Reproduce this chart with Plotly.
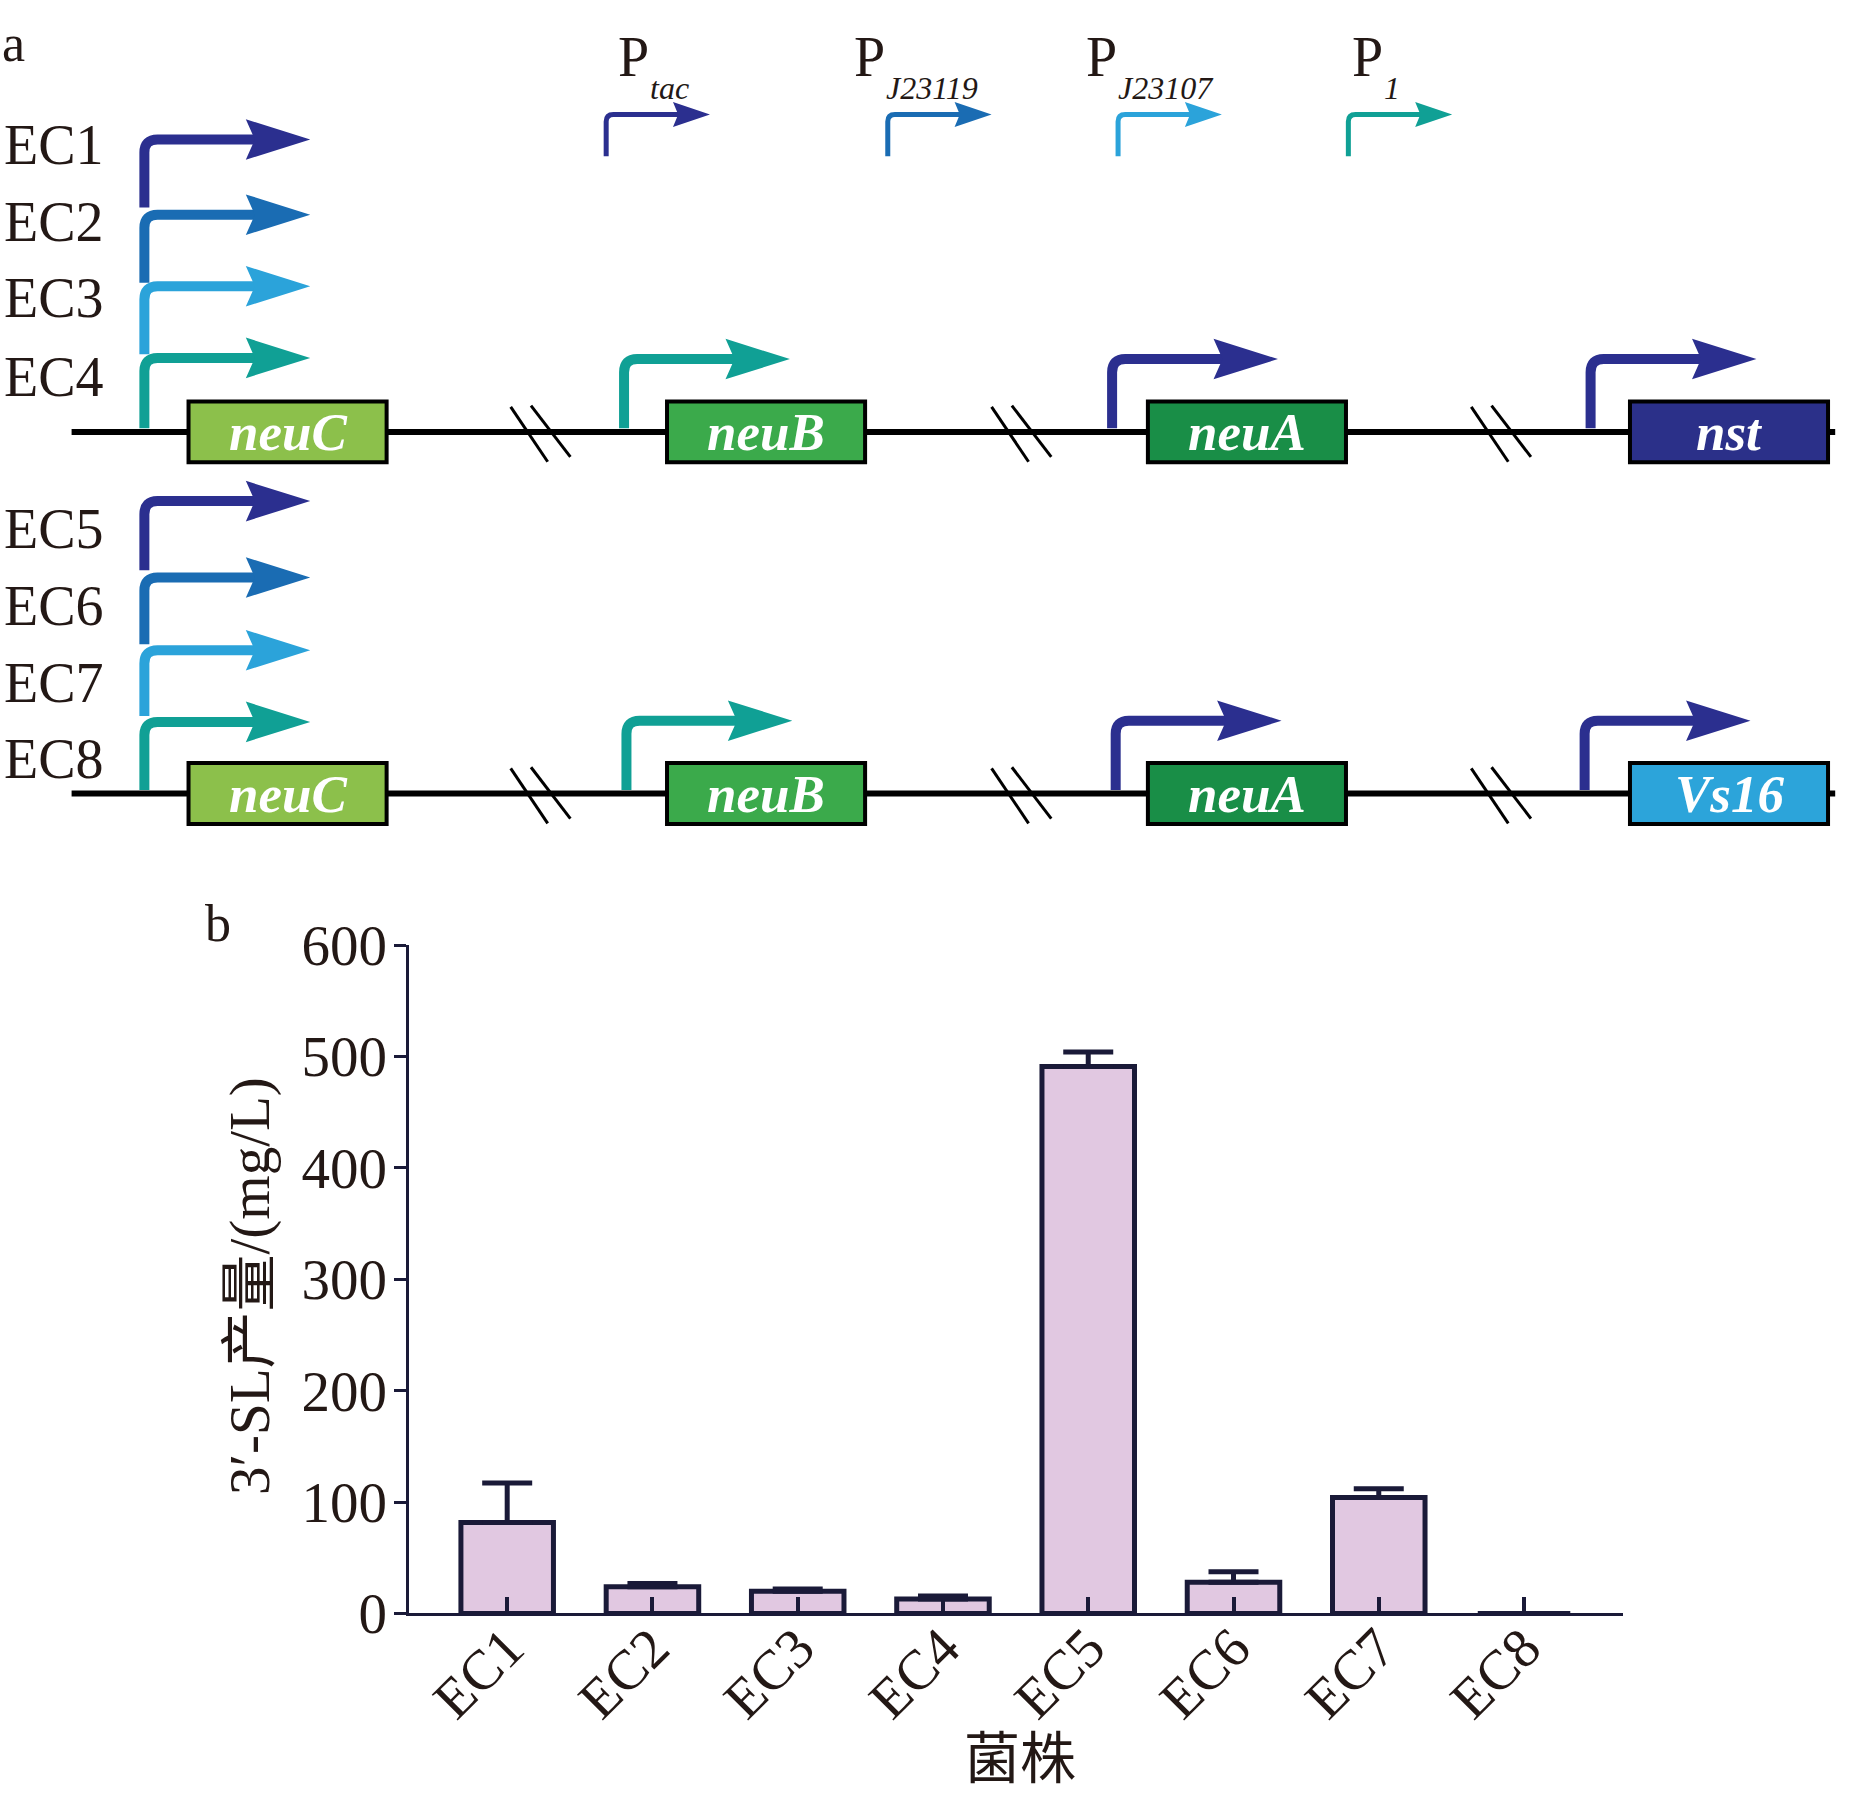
import plotly.graph_objects as go

# ---------------- data ----------------
strains = ["EC1", "EC2", "EC3", "EC4", "EC5", "EC6", "EC7", "EC8"]
production = [81.5, 24, 20, 13, 491, 28, 104, 0]
error_up = [35.5, 2.8, 2, 2.6, 13, 9.5, 8, 0]

genes_row1 = ["neuC", "neuB", "neuA", "nst"]
genes_row2 = ["neuC", "neuB", "neuA", "Vs16"]
promoters = ["tac", "J23119", "J23107", "1"]
strains_row1 = ["EC1", "EC2", "EC3", "EC4"]
strains_row2 = ["EC5", "EC6", "EC7", "EC8"]

NAVY = "#2B2F8F"
BLUE = "#1A6CB3"
LBLUE = "#2BA3DA"
TEAL = "#10A095"
promoter_colors = [NAVY, BLUE, LBLUE, TEAL]
gene_colors = {"neuC": "#8CC04B", "neuB": "#3BAA4B", "neuA": "#198E47",
               "nst": "#2B3089", "Vs16": "#2CA4DA"}
gene_promoter_colors = [TEAL, NAVY, NAVY]

BAR_FILL = "#E1C8E1"
DARK = "#1A1A38"
TXT = "#231815"
SERIF = "Liberation Serif, Times New Roman, Noto Sans CJK SC, serif"
CJK = "Liberation Serif, Noto Sans CJK SC, serif"

# figure size and layout frame (layout units: DW x DH, top of page at Y0)
W, H = 1871, 1828
DW, DH = 1568, 1503
Y0 = 24.1


def py(v):
    """layout-unit y (from top) -> paper fraction"""
    return 1 - (v - Y0) / (DH - Y0)


fig = go.Figure()

fig.add_trace(go.Bar(
    x=strains, y=production, width=0.637,
    marker=dict(color=BAR_FILL, line=dict(color=DARK, width=5)),
    error_y=dict(type="data", symmetric=False, array=error_up,
                 arrayminus=[0] * len(error_up), color=DARK,
                 thickness=5, width=25),
    showlegend=False, hoverinfo="x+y",
))

fig.add_trace(go.Scatter(x=[None], y=[None], xaxis="x2", yaxis="y2",
                         showlegend=False, hoverinfo="skip"))

shapes = []
annotations = []


def line(x0, y0, x1, y1, color, width):
    shapes.append(dict(type="line", xref="x2", yref="y2", x0=x0, y0=y0,
                       x1=x1, y1=y1, line=dict(color=color, width=width)))


def bent_arrow(x, y_bot, y_top, x_tip, color, lw, head_len, head_half, r):
    x_back = x_tip - head_len
    notch = head_len * 0.14
    p = (f"M {x},{y_bot} L {x},{y_top + r} Q {x},{y_top} {x + r},{y_top} "
         f"L {x_back + notch + 2},{y_top}")
    shapes.append(dict(type="path", xref="x2", yref="y2", path=p,
                       line=dict(color=color, width=lw),
                       fillcolor="rgba(0,0,0,0)"))
    h = (f"M {x_tip},{y_top} L {x_back},{y_top - head_half} "
         f"L {x_back + notch},{y_top} L {x_back},{y_top + head_half} Z")
    shapes.append(dict(type="path", xref="x2", yref="y2", path=h,
                       line=dict(color=color, width=0), fillcolor=color))


def text(x, y, s, size, color=TXT, xanchor="center", yanchor="middle",
         family=SERIF):
    annotations.append(dict(xref="x2", yref="y2", x=x, y=y, text=s,
                            showarrow=False, xanchor=xanchor, yanchor=yanchor,
                            font=dict(size=size, color=color, family=family)))


row_ys = [360, 663]
box_x0 = [158, 559, 962, 1366]
box_w = 166
box_hh = 25.5
break_xs = [453, 856, 1258]
gene_prom_x = [[523, 932, 1333], [525, 935, 1328]]

for ri, (row_y, genes) in enumerate(zip(row_ys, [genes_row1, genes_row2])):
    line(60, row_y, 1538, row_y, "black", 6)
    for bx in break_xs:
        line(bx - 25, row_y - 21, bx + 6, row_y + 25, "black", 3)
        line(bx - 8, row_y - 22, bx + 25, row_y + 21, "black", 3)
    for gi, g in enumerate(genes):
        x0 = box_x0[gi]
        shapes.append(dict(type="rect", xref="x2", yref="y2", x0=x0,
                           x1=x0 + box_w, y0=row_y - box_hh, y1=row_y + box_hh,
                           line=dict(color="black", width=4),
                           fillcolor=gene_colors[g]))
        text(x0 + box_w / 2, row_y, f"<b><i>{g}</i></b>", 53, "white")
    for pi, px in enumerate(gene_prom_x[ri]):
        y_top = row_y - 61
        bent_arrow(px, row_y - 3, y_top, px + 139, gene_promoter_colors[pi],
                   10, 54, 17, 11)

stack_tops = [[115, 178, 238, 298], [418, 482, 543, 603]]
stack_bots = [[172, 235, 295, 357], [476, 538, 598, 660]]
label_ys = [[120, 184, 248, 314], [441, 506, 570, 634]]
for gi, names in enumerate([strains_row1, strains_row2]):
    for k, name in enumerate(names):
        bent_arrow(121, stack_bots[gi][k], stack_tops[gi][k], 260,
                   promoter_colors[k], 10, 54, 17, 11)
        text(2, label_ys[gi][k], name, 56, xanchor="left")

prom_x = [508, 744, 937, 1130]
p_label_x = [531, 729, 923, 1146]
for k, (pn, px) in enumerate(zip(promoters, prom_x)):
    bent_arrow(px, 129, 94, px + 87, promoter_colors[k], 5, 31, 10.5, 6)
    text(p_label_x[k], 46, "P", 56)
    text(p_label_x[k] + 12, 72, f"<i>{pn}</i>", 32, xanchor="left")

# panel labels
annotations.append(dict(xref="paper", yref="paper", x=0, y=1, yshift=18,
                        text="a", showarrow=False, xanchor="left",
                        yanchor="top", font=dict(size=52, color=TXT,
                                                 family=SERIF)))
text(170, 772, "b", 52, xanchor="left")

annotations.append(dict(xref="paper", yref="paper", x=210 / DW, y=py(1076),
                        text="3′-SL产量/(mg/L)", textangle=-90, showarrow=False,
                        xanchor="center", yanchor="middle",
                        font=dict(size=57, color=TXT, family=CJK)))
annotations.append(dict(xref="paper", yref="paper", x=855 / DW, y=py(1472),
                        text="菌株", showarrow=False, xanchor="center",
                        yanchor="middle",
                        font=dict(size=56, color=TXT, family=CJK)))

fig.update_layout(
    width=W, height=H,
    margin=dict(l=0, r=0, t=0, b=0),
    paper_bgcolor="white", plot_bgcolor="rgba(0,0,0,0)",
    shapes=shapes, annotations=annotations,
    xaxis=dict(domain=[343 / DW, 1360 / DW], range=[-0.674, 7.68],
               showline=True, linewidth=3, linecolor=DARK, showgrid=False,
               zeroline=False, ticks="inside", ticklen=16, tickwidth=4,
               tickcolor=DARK, tickangle=-45, ticklabelstandoff=-24,
               tickfont=dict(size=56, family=SERIF, color=TXT)),
    yaxis=dict(domain=[py(1350), py(790)], range=[0, 600], dtick=100,
               showline=True, linewidth=3, linecolor=DARK, showgrid=False,
               zeroline=False, ticks="outside", ticklen=12, tickwidth=3,
               tickcolor=DARK, ticklabelstandoff=-4,
               tickfont=dict(size=57, family=SERIF, color=TXT)),
    xaxis2=dict(domain=[0, 1], range=[0, DW], visible=False, anchor="y2",
                fixedrange=True),
    yaxis2=dict(domain=[0, 1], range=[DH, Y0], visible=False, anchor="x2",
                fixedrange=True),
)

fig.write_html(
    "out.html",
    config={"displayModeBar": False},
    post_script=("document.documentElement.style.margin='0';"
                 "document.body.style.margin='0';"
                 "document.body.style.padding='0';"
                 "document.body.style.overflow='hidden';"),
)
